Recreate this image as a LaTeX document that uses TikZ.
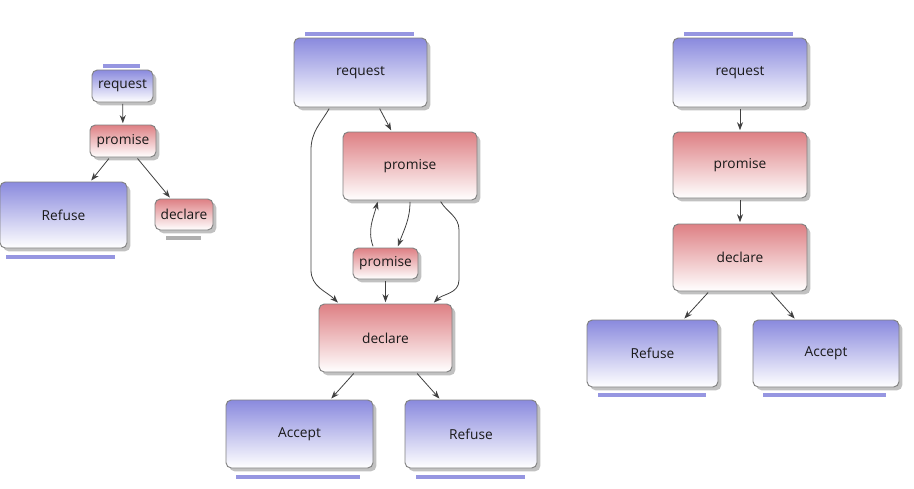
\documentclass[tikz,border=0pt]{standalone}
\usepackage{fontspec}
\setmainfont{Open Sans}
\usetikzlibrary{arrows.meta,shadows}
\definecolor{reqblue}{RGB}{138,138,222}
\definecolor{prored}{RGB}{222,128,132}
\definecolor{barblue}{RGB}{150,150,225}
\definecolor{bargray}{RGB}{175,175,175}

\begin{document}
\begin{tikzpicture}[x=0.75pt,y=-0.75pt,
    box/.style={rectangle, rounded corners=4pt, draw=black!50, line width=0.7pt,
      inner sep=0pt, font=\fontsize{10.3}{12}\selectfont, text=black!90,
      drop shadow={shadow xshift=2.5pt, shadow yshift=-2.5pt, opacity=0.35, fill=black!70}},
    bluebox/.style={box, top color=reqblue, bottom color=white},
    redbox/.style={box, top color=prored, bottom color=white},
    sz/.style 2 args={minimum width=#1*0.75pt, minimum height=#2*0.75pt},
    bar/.style={draw=barblue, line width=2.3pt},
    conn/.style={draw=black!75, line width=0.6pt, -{Stealth[length=6pt,width=4.5pt]},
      shorten >=1pt, shorten <=1pt}]
      \useasboundingbox (0,0) rectangle (914,489);
      % left
      \draw
        (122.5,86) node[bluebox, sz={61}{32}] (lreq){request}
        (123,141) node[redbox, sz={66}{32}] (lpro){promise}
        (63.5,215) node[bluebox, sz={127}{66}] (lref){Refuse}
        (184,214.5) node[redbox, sz={58}{31}] (ldec){declare};
      % middle
      \draw
        (360.5,72.5) node[bluebox, sz={133}{69}] (mreq){request}
        (410,166) node[redbox, sz={134}{68}] (mpro){promise}
        (385.5,263.5) node[redbox, sz={65}{31}] (mpro2){promise}
        (385.5,338) node[redbox, sz={133}{68}] (mdec){declare}
        (299.5,434) node[bluebox, sz={147}{68}] (macc){Accept}
        (471,434) node[bluebox, sz={132}{68}] (mref){Refuse};
      % right
      \draw
        (740,72.5) node[bluebox, sz={134}{69}] (rreq){request}
        (740,165) node[redbox, sz={134}{66}] (rpro){promise}
        (740,257.5) node[redbox, sz={134}{67}] (rdec){declare}
        (652.5,353.5) node[bluebox, sz={131}{67}] (rref){Refuse}
        (826,353.5) node[bluebox, sz={146}{67}] (racc){Accept};
      \begin{scope}[bar]
        \draw (103,66) -- (140,66);
        \draw (6,257) -- (115,257);
        \draw[draw=bargray] (166,238) -- (201,238);
        \draw (305,34) -- (414,34);
        \draw (236,477) -- (360,477);
        \draw (416,477) -- (525,477);
        \draw (684,34) -- (793,34);
        \draw (598,395) -- (706,395);
        \draw (763,395) -- (886,395);
      \end{scope}
      \begin{scope}[conn]
        \draw (lreq) to (lpro);
        \draw (lpro) to (lref);
        \draw (lpro) to (ldec);
        \draw (mreq) to (mpro);
        \draw ([xshift=-23pt]mreq.south) to[out=240,in=90] (311,150) -- (311,270)
          to[out=-90,in=135] ([xshift=-35pt]mdec.north);
        \draw (mpro.south) to[out=-90,in=70] ([xshift=9pt]mpro2.north);
        \draw ([xshift=-9pt]mpro2.north) to[out=110,in=-105] ([xshift=-24pt]mpro.south);
        \draw ([xshift=22.5pt]mpro.south) to[out=-60,in=90] (459,230) -- (459,280)
          to[out=-90,in=45] ([xshift=35.6pt]mdec.north);
        \draw (mpro2) to (mdec);
        \draw (mdec) to (macc);
        \draw (mdec) to (mref);
        \draw (rreq) to (rpro);
        \draw (rpro) to (rdec);
        \draw (rdec) to (rref);
        \draw (rdec) to (racc);
      \end{scope}
    \end{tikzpicture}
\end{document}
